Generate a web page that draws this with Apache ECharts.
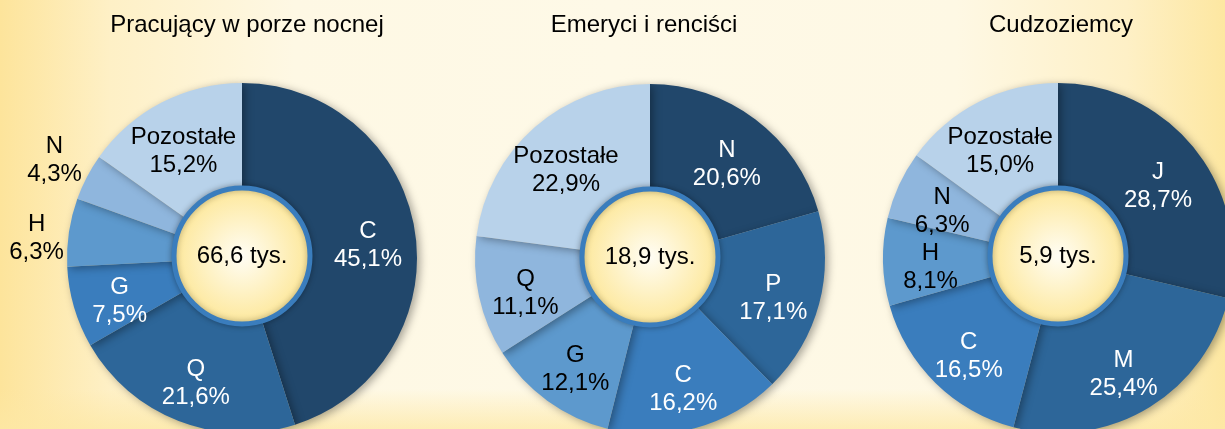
<!DOCTYPE html>
<html>
<head>
<meta charset="utf-8">
<script src="https://cdn.jsdelivr.net/npm/echarts@6/dist/echarts.min.js"></script>
<style>
  html, body { margin: 0; padding: 0; }
  #main {
    width: 1225px; height: 429px;
    background:
      linear-gradient(to top, rgba(253,232,165,0.75) 0px, rgba(253,232,165,0) 40px),
      linear-gradient(to right, #fde49b 0%, #fef0c6 9%, #fef8e4 24%, #fef9e7 50%, #fef8e4 78%, #fef0c6 92%, #fde7a1 100%);
  }
</style>
</head>
<body>
<div id="main"></div>
<script>
// chart titles
var titles = ['Pracujący w porze nocnej', 'Emeryci i renciści', 'Cudzoziemcy'];
// totals in thousands
var totals = [66.6, 18.9, 5.9];
// sections of each pie, clockwise from 12 o'clock
var names1 = ['C', 'Q', 'G', 'H', 'N', 'Pozostałe'];
var shares1 = [45.1, 21.6, 7.5, 6.3, 4.3, 15.2];
var names2 = ['N', 'P', 'C', 'G', 'Q', 'Pozostałe'];
var shares2 = [20.6, 17.1, 16.2, 12.1, 11.1, 22.9];
var names3 = ['J', 'M', 'C', 'H', 'N', 'Pozostałe'];
var shares3 = [28.7, 25.4, 16.5, 8.1, 6.3, 15.0];

var palette = ['#21476b', '#2d6699', '#3a7dbd', '#5d99cd', '#8fb6dd', '#b8d2ea'];
var centers = [[242, 258], [650, 259], [1058, 258]];
var titleX = [242, 639, 1056];
var outside = [['N', 'H'], [], []];

function fmt(v) { return v.toFixed(1).replace('.', ','); }

var myChart = echarts.init(document.getElementById('main'));
var font = 'Liberation Sans, Arial, sans-serif';

var sets = [[names1, shares1], [names2, shares2], [names3, shares3]];
var series = [];
var titleList = [];

sets.forEach(function (s, k) {
    var data = s[0].map(function (n, i) {
        var out = outside[k].indexOf(n) >= 0;
        return {
            name: n,
            value: s[1][i],
            itemStyle: { color: palette[i] },
            label: out ? { position: 'outside', color: '#000' } : { color: i < 3 ? '#fff' : '#000' },
            labelLine: { show: false, length: 0, length2: 0 }
        };
    });
    series.push({
        type: 'pie',
        center: centers[k],
        radius: [66, 175],
        startAngle: 90,
        clockwise: true,
        avoidLabelOverlap: false,
        silent: true,
        itemStyle: {
            shadowBlur: 8,
            shadowColor: 'rgba(0,0,0,0.35)',
            shadowOffsetX: 3,
            shadowOffsetY: 2
        },
        label: {
            show: true,
            position: 'inside',
            fontFamily: font,
            fontSize: 24,
            lineHeight: 28,
            formatter: function (p) {
                return '{a|' + p.name + '}\n{a|' + fmt(p.value) + '%}';
            },
            rich: { a: { align: 'center', fontSize: 24, lineHeight: 28, fontFamily: font } }
        },
        labelLayout: function (p) {
            var nm = s[0][p.dataIndex];
            if (outside[k].indexOf(nm) >= 0) {
                return nm === 'N' ? { dy: -17 } : { dy: 6 };
            }
            // push inner labels a bit outward and down
            var r = p.labelRect;
            var vx = r.x + r.width / 2 - centers[k][0];
            var vy = r.y + r.height / 2 - centers[k][1];
            var d = Math.sqrt(vx * vx + vy * vy) || 1;
            return { dx: vx / d * 4, dy: vy / d * 4 + 7 };
        },
        data: data
    });
    // center disc with the total
    series.push({
        type: 'pie',
        center: [centers[k][0], centers[k][1] - 2],
        radius: [0, 68],
        silent: true,
        z: 5,
        itemStyle: {
            color: {
                type: 'radial', x: 0.5, y: 0.5, r: 0.5,
                colorStops: [{ offset: 0, color: '#fffdf4' }, { offset: 1, color: '#fde798' }]
            },
            borderColor: '#3a7dbd',
            borderWidth: 5,
            shadowBlur: 6,
            shadowColor: 'rgba(0,0,0,0.3)'
        },
        label: {
            show: true,
            position: 'center',
            fontFamily: font,
            fontSize: 24,
            color: '#000',
            formatter: function () { return fmt(totals[k]) + ' tys.'; }
        },
        labelLine: { show: false },
        data: [{ value: totals[k] }]
    });
    titleList.push({
        text: titles[k],
        left: titleX[k],
        top: 8,
        textAlign: 'center',
        textStyle: { fontFamily: font, fontSize: 24, fontWeight: 'normal', color: '#000' }
    });
});

myChart.setOption({
    backgroundColor: 'transparent',
    animation: false,
    title: titleList,
    series: series
});
</script>
</body>
</html>
